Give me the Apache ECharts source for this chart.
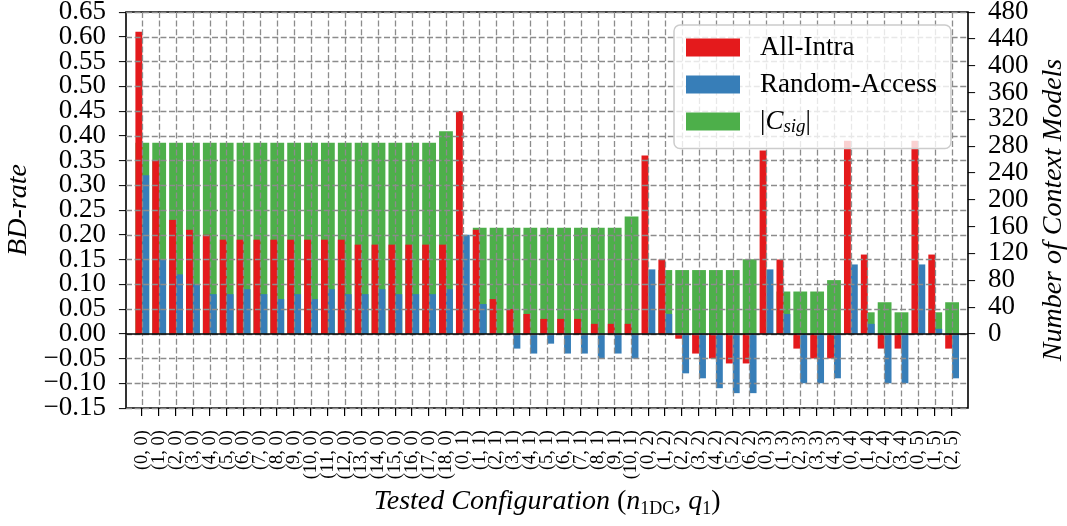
<!DOCTYPE html>
<html>
<head>
<meta charset="utf-8">
<script src="https://cdn.jsdelivr.net/npm/echarts@6/dist/echarts.min.js"></script>
<style>
html, body { margin: 0; padding: 0; background: #fff; }
#chart { width: 1067px; height: 526px; }
</style>
</head>
<body>
<div id="chart"></div>
<script>
const categories = [
  '(0, 0)', '(1, 0)', '(2, 0)', '(3, 0)', '(4, 0)', '(5, 0)', '(6, 0)', '(7, 0)', '(8, 0)', '(9, 0)',
  '(10, 0)', '(11, 0)', '(12, 0)', '(13, 0)', '(14, 0)', '(15, 0)', '(16, 0)', '(17, 0)', '(18, 0)',
  '(0, 1)', '(1, 1)', '(2, 1)', '(3, 1)', '(4, 1)', '(5, 1)', '(6, 1)', '(7, 1)', '(8, 1)', '(9, 1)', '(10, 1)',
  '(0, 2)', '(1, 2)', '(2, 2)', '(3, 2)', '(4, 2)', '(5, 2)', '(6, 2)',
  '(0, 3)', '(1, 3)', '(2, 3)', '(3, 3)', '(4, 3)',
  '(0, 4)', '(1, 4)', '(2, 4)', '(3, 4)',
  '(0, 5)', '(1, 5)', '(2, 5)'
];
const allIntra = [
  0.61, 0.35, 0.23, 0.21, 0.20, 0.19, 0.19, 0.19, 0.19, 0.19,
  0.19, 0.19, 0.19, 0.18, 0.18, 0.18, 0.18, 0.18, 0.18,
  0.45, 0.21, 0.07, 0.05, 0.04, 0.03, 0.03, 0.03, 0.02, 0.02, 0.02,
  0.36, 0.15, -0.01, -0.04, -0.05, -0.06, -0.06,
  0.37, 0.15, -0.03, -0.05, -0.05,
  0.39, 0.16, -0.03, -0.03,
  0.39, 0.16, -0.03
];
const randomAccess = [
  0.32, 0.15, 0.12, 0.10, 0.08, 0.08, 0.09, 0.08, 0.07, 0.08,
  0.07, 0.09, 0.08, 0.08, 0.09, 0.08, 0.08, 0.08, 0.09,
  0.20, 0.06, 0.00, -0.03, -0.04, -0.02, -0.04, -0.04, -0.05, -0.04, -0.05,
  0.13, 0.04, -0.08, -0.09, -0.11, -0.12, -0.12,
  0.13, 0.04, -0.10, -0.10, -0.09,
  0.14, 0.02, -0.10, -0.10,
  0.14, 0.01, -0.09
];
const contextModels = [
  285, 285, 285, 285, 285, 285, 285, 285, 285, 285,
  285, 285, 285, 285, 285, 285, 285, 285, 302,
  0, 158, 158, 158, 158, 158, 158, 158, 158, 158, 175,
  0, 95, 95, 95, 95, 95, 111,
  0, 63, 63, 63, 80,
  0, 32, 47, 32,
  0, 32, 47
];
// left tick labels, split in two interleaved sets so none are dropped for overlap
const leftTicksA = [-0.15, -0.05, 0.05, 0.15, 0.25, 0.35, 0.45, 0.55, 0.65];
const leftTicksB = [-0.10, 0.00, 0.10, 0.20, 0.30, 0.40, 0.50, 0.60];
const rightTickValues = [0, 40, 80, 120, 160, 200, 240, 280, 320, 360, 400, 440, 480];
const leftMin = -0.15, leftMax = 0.65, leftInterval = 0.05;
const rightMax = 480;
const rightMin = leftMin / leftMax * rightMax;

const SERIF = '"Liberation Serif", "DejaVu Serif", serif';
const gridLine = { color: '#8c8c8c', type: [6, 2.6], width: 1.3 };
const tickStyle = { color: '#000', width: 1.5 };
// an en dash at the end of each tick label acts as the tick mark
const dashY = { fontFamily: SERIF, fontSize: 14, fontWeight: 'bold', color: '#000', lineHeight: 18, verticalAlign: 'middle' };
const dashX = { fontFamily: SERIF, fontSize: 16, fontWeight: 'bold', color: '#000', lineHeight: 18, verticalAlign: 'middle' };

function fmtLeft(v) {
  if (Math.abs(v) < 1e-9) return '0.00';
  return (v < 0 ? '\u2212' : '') + Math.abs(v).toFixed(2);
}

function leftAxis(ticks, withName) {
  const ax = {
    gridIndex: 1, type: 'value', position: 'left', offset: 16.3, z: 3,
    min: leftMin, max: leftMax, interval: leftInterval,
    axisLine: { show: false, onZero: false },
    axisTick: { show: false },
    axisLabel: {
      customValues: ticks, showMinLabel: true, showMaxLabel: true, hideOverlap: false,
      margin: 0, color: '#000',
      formatter: function (v) { return '{l|' + fmtLeft(v) + '}{t|\u2013}'; },
      rich: {
        l: { fontFamily: SERIF, fontSize: 27, color: '#000', lineHeight: 18, padding: [0, 13, 0, 0] },
        t: dashY
      }
    },
    splitLine: { show: false }
  };
  if (withName) {
    ax.name = 'BD-rate';
    ax.nameLocation = 'middle';
    ax.nameGap = 93;
    ax.nameTextStyle = { color: '#000', fontFamily: SERIF, fontStyle: 'italic', fontSize: 28 };
  }
  return ax;
}

const chart = echarts.init(document.getElementById('chart'), null, { renderer: 'canvas' });

const option = {
  animation: false,
  backgroundColor: '#fff',
  grid: [
    { left: 126, right: 99, top: 12, bottom: 118, outerBoundsMode: 'none', containLabel: false, show: true, borderColor: '#000', borderWidth: 1.6, backgroundColor: 'transparent' },
    { left: 142.3, right: 114.9, top: 12, bottom: 118, outerBoundsMode: 'none', containLabel: false }
  ],
  legend: {
    data: ['All-Intra', 'Random-Access', 'Csig'],
    orient: 'vertical',
    left: 674,
    top: 25,
    z: 10,
    icon: 'rect',
    itemWidth: 54,
    itemHeight: 18,
    itemGap: 10,
    padding: [9, 14, 12, 12],
    backgroundColor: 'rgba(255,255,255,0.8)',
    borderColor: '#cccccc',
    borderWidth: 1.5,
    borderRadius: 6,
    selectedMode: false,
    formatter: function (name) {
      if (name === 'Csig') return '{a||}{c|C}{s|sig}{p||}';
      return '{a|' + name + '}';
    },
    textStyle: {
      color: '#000',
      fontFamily: SERIF,
      fontSize: 27,
      rich: {
        a: { fontFamily: SERIF, fontSize: 27, color: '#000', padding: [0, 0, 0, 15], lineHeight: 30 },
        p: { fontFamily: SERIF, fontSize: 27, color: '#000', lineHeight: 30 },
        c: { fontFamily: SERIF, fontStyle: 'italic', fontSize: 27, color: '#000', lineHeight: 30 },
        s: { fontFamily: SERIF, fontStyle: 'italic', fontSize: 19, color: '#000', lineHeight: 30, verticalAlign: 'bottom' }
      }
    }
  },
  xAxis: [
    { gridIndex: 0, type: 'value', min: 0, max: 1, show: false },
    {
      gridIndex: 1, type: 'category', data: categories, boundaryGap: false, z: 3,
      axisLine: { show: false },
      axisTick: { show: false },
      axisLabel: {
        interval: 0, rotate: 90, margin: 0, color: '#000',
        formatter: function (v) { return '{l|' + v + '}{t|\u2013}'; },
        rich: {
          l: { fontFamily: SERIF, fontSize: 18.5, color: '#000', lineHeight: 18, padding: [0, 14, 0, 0] },
          t: dashX
        }
      },
      splitLine: { show: true, interval: 0, lineStyle: gridLine },
      name: '{t|Tested Configuration }{r|(}{i|n}{s|1DC}{r|, }{i|q}{s|1}{r|)}',
      nameLocation: 'middle',
      nameGap: 72,
      nameTextStyle: {
        color: '#000',
        fontFamily: SERIF,
        fontSize: 28,
        rich: {
          t: { fontFamily: SERIF, fontStyle: 'italic', fontSize: 28, color: '#000', lineHeight: 34 },
          r: { fontFamily: SERIF, fontSize: 28, color: '#000', lineHeight: 34 },
          i: { fontFamily: SERIF, fontStyle: 'italic', fontSize: 28, color: '#000', lineHeight: 34 },
          s: { fontFamily: SERIF, fontSize: 18, color: '#000', lineHeight: 25, verticalAlign: 'bottom' }
        }
      }
    },
    { gridIndex: 1, type: 'category', data: categories, boundaryGap: false, show: false }
  ],
  yAxis: [
    {
      gridIndex: 0, type: 'value', position: 'left', z: 3,
      min: leftMin, max: leftMax, interval: leftInterval,
      axisLine: { show: false }, axisTick: { show: false }, axisLabel: { show: false },
      splitLine: { show: true, lineStyle: gridLine }
    },
    { gridIndex: 0, type: 'value', position: 'right', min: rightMin, max: rightMax, show: false },
    leftAxis(leftTicksA, true),
    {
      gridIndex: 1, type: 'value', position: 'right', offset: 15.9, z: 3,
      min: rightMin, max: rightMax,
      axisLine: { show: false, onZero: false },
      axisTick: { show: false },
      axisLabel: {
        customValues: rightTickValues, showMinLabel: true, showMaxLabel: true, hideOverlap: false,
        margin: 0, color: '#000',
        formatter: function (v) { return '{t|\u2013}{l|' + v + '}'; },
        rich: {
          l: { fontFamily: SERIF, fontSize: 27, color: '#000', lineHeight: 18, padding: [0, 0, 0, 13] },
          t: dashY
        }
      },
      splitLine: { show: false },
      name: 'Number of Context Models',
      nameLocation: 'middle',
      nameGap: 72,
      nameTextStyle: { color: '#000', fontFamily: SERIF, fontStyle: 'italic', fontSize: 28 }
    },
    leftAxis(leftTicksB, false)
  ],
  series: [
    {
      name: 'Csig', type: 'bar', xAxisIndex: 2, yAxisIndex: 3,
      data: contextModels, barWidth: 13.8, clip: false,
      itemStyle: { color: '#4daf4a' }
    },
    {
      name: 'All-Intra', type: 'bar', xAxisIndex: 1, yAxisIndex: 2,
      data: allIntra, barWidth: 6.9, barGap: '0%', clip: false,
      itemStyle: { color: '#e41a1c' }
    },
    {
      name: 'Random-Access', type: 'bar', xAxisIndex: 1, yAxisIndex: 2,
      data: randomAccess, barWidth: 6.9, barGap: '0%', clip: false,
      itemStyle: { color: '#377eb8' }
    },
    {
      name: 'zero', type: 'line', xAxisIndex: 0, yAxisIndex: 0, data: [],
      markLine: {
        silent: true, symbol: 'none', animation: false,
        label: { show: false },
        lineStyle: { color: '#000', type: 'solid', width: 1.6 },
        data: [{ yAxis: 0 }]
      }
    }
  ]
};
chart.setOption(option);
</script>
</body>
</html>
